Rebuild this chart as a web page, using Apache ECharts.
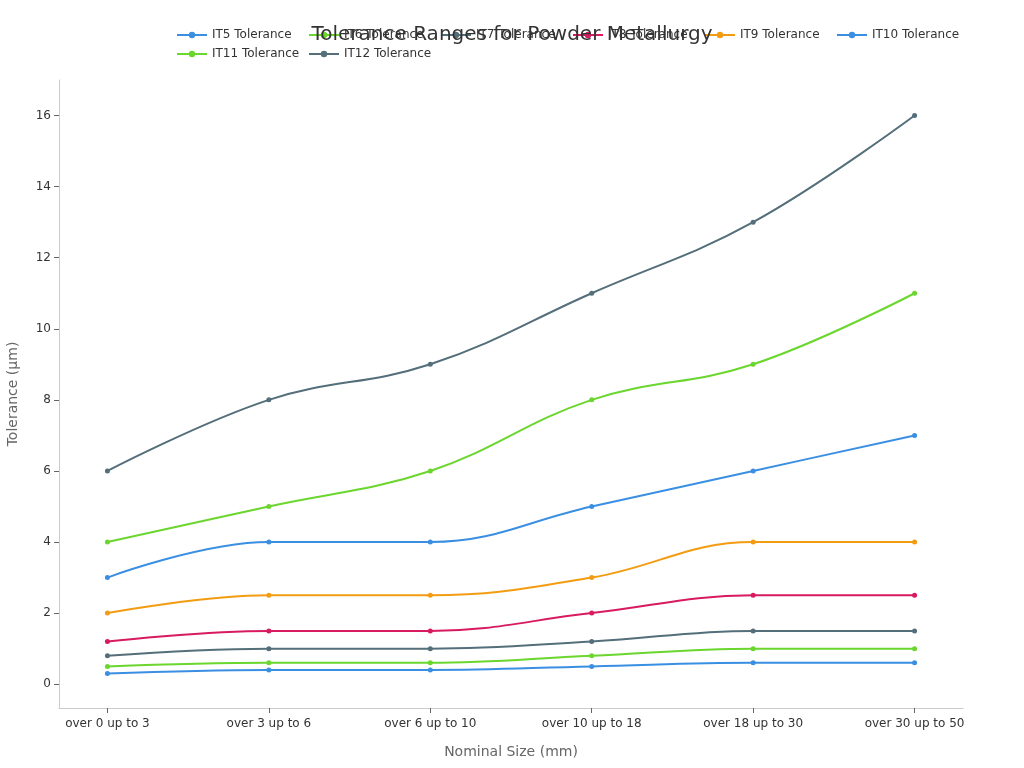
<!DOCTYPE html>
<html><head><meta charset="utf-8">
<script src="https://cdn.jsdelivr.net/npm/echarts@6/dist/echarts.min.js"></script>
<style>html,body{margin:0;padding:0;background:#fff}#c{width:1024px;height:768px}</style>
</head><body><div id="c"></div>
<script>
const categories = ['over 0 up to 3','over 3 up to 6','over 6 up to 10','over 10 up to 18','over 18 up to 30','over 30 up to 50'];
const seriesNames = ['IT5 Tolerance','IT6 Tolerance','IT7 Tolerance','IT8 Tolerance','IT9 Tolerance','IT10 Tolerance','IT11 Tolerance','IT12 Tolerance'];
const it5  = [0.3, 0.4, 0.4, 0.5, 0.6, 0.6];
const it6  = [0.5, 0.6, 0.6, 0.8, 1.0, 1.0];
const it7  = [0.8, 1.0, 1.0, 1.2, 1.5, 1.5];
const it8  = [1.2, 1.5, 1.5, 2.0, 2.5, 2.5];
const it9  = [2.0, 2.5, 2.5, 3.0, 4.0, 4.0];
const it10 = [3, 4, 4, 5, 6, 7];
const it11 = [4, 5, 6, 8, 9, 11];
const it12 = [6, 8, 9, 11, 13, 16];
const yTicks = [0, 2, 4, 6, 8, 10, 12, 14, 16];
const colors = ['#3a8fe2','#6ad62e','#546e7a','#d81b60','#f39c12','#3a8fe2','#6ad62e','#546e7a'];
const allData = [it5, it6, it7, it8, it9, it10, it11, it12];
const font = 'DejaVu Sans';
const xIdx = categories.map((c, i) => i);

// one legend per item, laid out in fixed-width columns (6 per row)
const legends = seriesNames.map((name, k) => ({
  data: [name], left: 171 + 132 * (k % 6), top: 24 + 19 * Math.floor(k / 6),
  itemWidth: 30, itemHeight: 8,
  textStyle: { fontFamily: font, fontSize: 12, color: '#333' }
}));

const chart = echarts.init(document.getElementById('c'));
chart.setOption({
  animation: false,
  textStyle: { fontFamily: font },
  title: { text: 'Tolerance Ranges for Powder Metallurgy', left: 'center', top: 20,
    textStyle: { fontFamily: font, fontSize: 20, fontWeight: 'normal', color: '#333' } },
  legend: legends,
  grid: { left: 59, right: 61, top: 80, bottom: 60, containLabel: false, outerBoundsMode: 'none' },
  xAxis: {
    type: 'value', min: -0.3, max: 5.3,
    name: 'Nominal Size (mm)', nameLocation: 'middle', nameGap: 37,
    nameTextStyle: { fontFamily: font, fontSize: 14, color: '#666' },
    axisLine: { show: true, onZero: false, lineStyle: { color: '#ccc' } },
    axisTick: { show: true, customValues: xIdx, lineStyle: { color: '#666' } },
    axisLabel: { customValues: xIdx, formatter: v => categories[Math.round(v)] || '',
      fontFamily: font, fontSize: 12, color: '#333', margin: 10 },
    splitLine: { show: false }
  },
  yAxis: {
    type: 'value', min: -0.67, max: 17,
    name: 'Tolerance (µm)', nameLocation: 'middle', nameGap: 39,
    nameTextStyle: { fontFamily: font, fontSize: 14, color: '#666' },
    axisLine: { show: true, onZero: false, lineStyle: { color: '#ccc' } },
    axisTick: { show: true, customValues: yTicks, lineStyle: { color: '#666' } },
    axisLabel: { customValues: yTicks, fontFamily: font, fontSize: 12, color: '#333' },
    splitLine: { show: false }
  },
  series: seriesNames.map((name, k) => ({
    name, type: 'line', smooth: 0.4, symbol: 'circle', symbolSize: 5,
    itemStyle: { color: colors[k] }, lineStyle: { color: colors[k], width: 2 },
    data: allData[k].map((v, i) => [i, v])
  }))
});
</script></body></html>
